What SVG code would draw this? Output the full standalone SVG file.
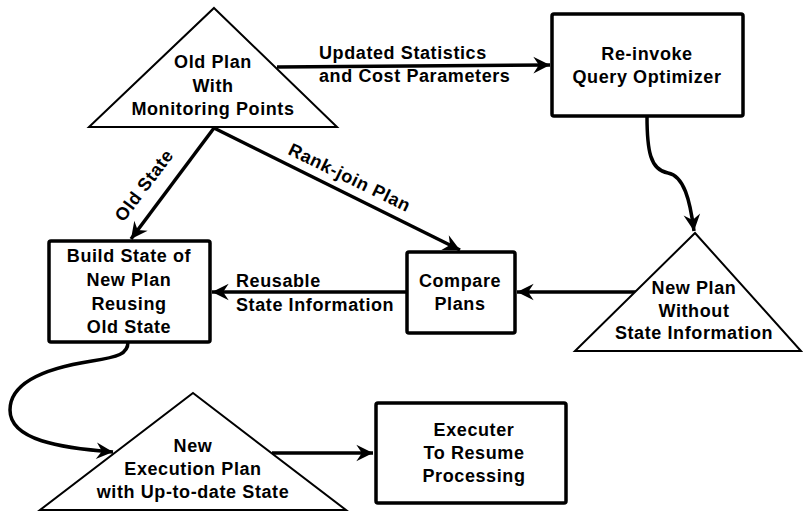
<svg xmlns="http://www.w3.org/2000/svg" width="803" height="512" viewBox="0 0 803 512">
<defs>
<style>
.tri{fill:#fff;stroke:#000;stroke-width:2;stroke-linejoin:miter}
.box{fill:#fff;stroke:#000;stroke-width:3.5}
.t{font-family:"Liberation Sans",Arial,sans-serif;font-size:18px;font-weight:bold;letter-spacing:0.6px;fill:#000}
.c{text-anchor:middle}
.e{fill:none;stroke:#000;stroke-width:3.5}
</style>
<marker id="ah" markerUnits="userSpaceOnUse" markerWidth="20" markerHeight="20" viewBox="-16 -9 18 18" refX="0" refY="0" orient="auto">
<path d="M0,0 L-15,-7.5 L-10,0 L-15,7.5 Z" fill="#000"/>
</marker>
</defs>
<rect width="803" height="512" fill="#fff"/>
<g id="edges">
<path class="e" d="M277,67 L550,65" marker-end="url(#ah)"/>
<path class="e" d="M647,116 C647,150 650,170 668,173 C684,176 690,200 694,231" marker-end="url(#ah)"/>
<path class="e" d="M637,292 L517,292" marker-end="url(#ah)"/>
<path class="e" d="M406,292 L212,292" marker-end="url(#ah)"/>
<path class="e" d="M214,128 L131,239" marker-end="url(#ah)"/>
<path class="e" d="M214,128 L460,250" marker-end="url(#ah)"/>
<path class="e" d="M128,342 C128,354 118,357 92,361 C40,369 10,385 10,410 C10,440 60,448 113,452" marker-end="url(#ah)"/>
<path class="e" d="M272,453 L373,453" marker-end="url(#ah)"/>
<text class="t" x="319" y="59">Updated Statistics</text>
<text class="t" x="319" y="82">and Cost Parameters</text>
<text class="t" x="236" y="287">Reusable</text>
<text class="t" x="236" y="311">State Information</text>
<text class="t c" transform="translate(149,189) rotate(-53)">Old State</text>
<text class="t c" transform="translate(347,183) rotate(26)">Rank-join Plan</text>
</g>
<g id="old-plan">
<polygon class="tri" points="214,8 337,127 89,127"/>
<text class="t c" x="213" y="68">Old Plan</text>
<text class="t c" x="213" y="92">With</text>
<text class="t c" x="213" y="115">Monitoring Points</text>
</g>
<g id="reinvoke">
<rect class="box" x="552" y="14" width="191" height="102" rx="2"/>
<text class="t c" x="647" y="60">Re-invoke</text>
<text class="t c" x="647" y="83">Query Optimizer</text>
</g>
<g id="new-plan">
<polygon class="tri" points="695,233 801,351 575,351"/>
<text class="t c" x="694" y="294">New Plan</text>
<text class="t c" x="694" y="317">Without</text>
<text class="t c" x="694" y="339">State Information</text>
</g>
<g id="compare">
<rect class="box" x="407" y="252" width="108" height="81" rx="2"/>
<text class="t c" x="460" y="287">Compare</text>
<text class="t c" x="460" y="310">Plans</text>
</g>
<g id="build">
<rect class="box" x="49" y="241" width="161" height="101" rx="2"/>
<text class="t c" x="129" y="262">Build State of</text>
<text class="t c" x="129" y="286">New Plan</text>
<text class="t c" x="129" y="310">Reusing</text>
<text class="t c" x="129" y="333">Old State</text>
</g>
<g id="new-exec">
<polygon class="tri" points="193,393 346,510 40,510"/>
<text class="t c" x="193" y="452">New</text>
<text class="t c" x="193" y="475">Execution Plan</text>
<text class="t c" x="193" y="498">with Up-to-date State</text>
</g>
<g id="executer">
<rect class="box" x="376" y="403" width="190" height="100" rx="2"/>
<text class="t c" x="474" y="436">Executer</text>
<text class="t c" x="474" y="459">To Resume</text>
<text class="t c" x="474" y="482">Processing</text>
</g>
</svg>
